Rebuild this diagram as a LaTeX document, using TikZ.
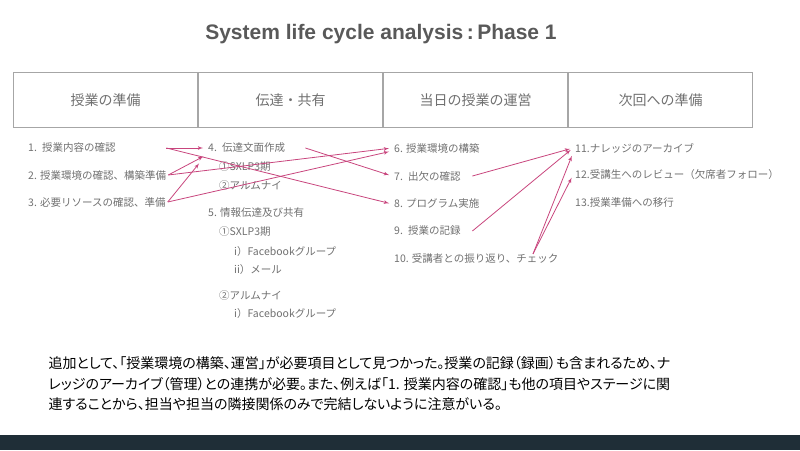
\documentclass[tikz,border=0pt]{standalone}
\usepackage{fontspec}
\setmainfont{Noto Sans CJK JP}
\newfontfamily\titlefont{Liberation Sans}
\newfontfamily\notefont[RawFeature=+palt]{Noto Sans CJK JP}
\usetikzlibrary{arrows,positioning}
\definecolor{boxgray}{HTML}{A6A6A6}
\definecolor{textgray}{HTML}{707070}
\definecolor{titlegray}{HTML}{595959}
\definecolor{linkpink}{HTML}{C8457D}
\definecolor{bardark}{HTML}{1F2E37}
\tikzstyle{fase}=[draw=boxgray, line width=1pt, minimum width=184pt,
  minimum height=55pt, text=textgray, font=\fontsize{14}{16}\selectfont]
\tikzstyle{tarea}=[anchor=west, inner sep=2pt, text=textgray, align=left,
  font=\fontsize{10.5}{12}\selectfont]
\tikzstyle{tareaA}=[tarea, text width=136pt]
\tikzstyle{tareaB}=[tarea, text width=95pt]
\tikzstyle{tareaC}=[tarea, text width=76pt]
\tikzstyle{line} = [draw, line width=0.8pt, color=linkpink, -latex',
  shorten >=3pt]
\newcommand{\fase}[2]{node (f#1) [fase] {#2}}
\newcommand{\tarea}[3]{node (t#1) [#2] {#3}}

\begin{document}
\begin{tikzpicture}[x=1pt,y=-1pt]
\useasboundingbox (0,0) rectangle (800,450);

% Title
\node (title) at (381,34) {\titlefont\bfseries\fontsize{21}{24}\selectfont
  \color{titlegray}System life cycle analysis\,:\,Phase 1};

% Draw stage boxes
\path (105.5,100)        \fase{1}{授業の準備};
\path (f1.center)+(185,0) \fase{2}{伝達・共有};
\path (f2.center)+(185,0) \fase{3}{当日の授業の運営};
\path (f3.center)+(185,0) \fase{4}{次回への準備};

% Draw task lists
\path (26,148)          \tarea{1}{tareaA}{1. 授業内容の確認};
\path (t1.west)+(0,27)  \tarea{2}{tarea}{2. 授業環境の確認、構築準備};
\path (t2.west)+(0,27)  \tarea{3}{tarea}{3. 必要リソースの確認、準備};

\path (206,148)          \tarea{4}{tareaB}{4. 伝達文面作成};
\path (t4.west)+(11,19)  \tarea{4a}{tarea}{①SXLP3期};
\path (t4a.west)+(0,19)  \tarea{4b}{tarea}{②アルムナイ};
\path (t4.west)+(0,65)   \tarea{5}{tarea}{5. 情報伝達及び共有};
\path (t5.west)+(11,19)  \tarea{5a}{tarea}{①SXLP3期};
\path (t5a.west)+(15,20) \tarea{5b}{tarea}{i）Facebookグループ};
\path (t5b.west)+(0,18)  \tarea{5c}{tarea}{ii）メール};
\path (t5a.west)+(0,64)  \tarea{5d}{tarea}{②アルムナイ};
\path (t5d.west)+(15,18) \tarea{5e}{tarea}{i）Facebookグループ};

\path (392,148)          \tarea{6}{tarea}{6. 授業環境の構築};
\path (t6.west)+(0,28)   \tarea{7}{tareaC}{7. 出欠の確認};
\path (t7.west)+(0,28)   \tarea{8}{tarea}{8. プログラム実施};
\path (t8.west)+(0,27)   \tarea{9}{tareaC}{9. 授業の記録};
\path (t9.west)+(0,27)   \tarea{10}{tarea}{10. 受講者との振り返り、チェック};
\path (t10.north west)+(141,3) coordinate (s10);

\path (573,148)          \tarea{11}{tarea}{11.ナレッジのアーカイブ};
\path (t11.west)+(0,27)  \tarea{12}{tarea}{12.受講生へのレビュー（欠席者フォロー）};
\path (t12.west)+(0,27)  \tarea{13}{tarea}{13.授業準備への移行};

% Draw arrows between tasks
\path [line] (t1.east) -- (t4.west);
\path [line] (t1.east) -- (t8.west);
\path [line] (t2.east) -- (t4.south west);
\path [line] (t2.east) -- (t6.west);
\path [line] (t3.east) -- ([shift={(-5,6)}]t4.south west);
\path [line] (t3.east) -- ([shift={(0,3)}]t6.west);
\path [line] (t4.east) -- (t7.west);
\path [line] (t7.east) -- (t11.west);
\path [line] (t9.east) -- (t11.west);
\path [line] (s10) -- ([shift={(0,5)}]t11.west);
\path [line] (s10) -- (t12.west);

% Note and footer bar
\node (note) [anchor=west, align=left, font=\notefont\fontsize{14}{20.5}\selectfont]
  at (45,384) {追加として、「授業環境の構築、運営」が必要項目として見つかった。授業の記録（録画）も含まれるため、ナ\\
  レッジのアーカイブ（管理）との連携が必要。また、例えば「1. 授業内容の確認」も他の項目やステージに関\\
  連することから、担当や担当の隣接関係のみで完結しないように注意がいる。};
\fill [bardark] (0,435) rectangle (800,450);
\end{tikzpicture}
\end{document}
